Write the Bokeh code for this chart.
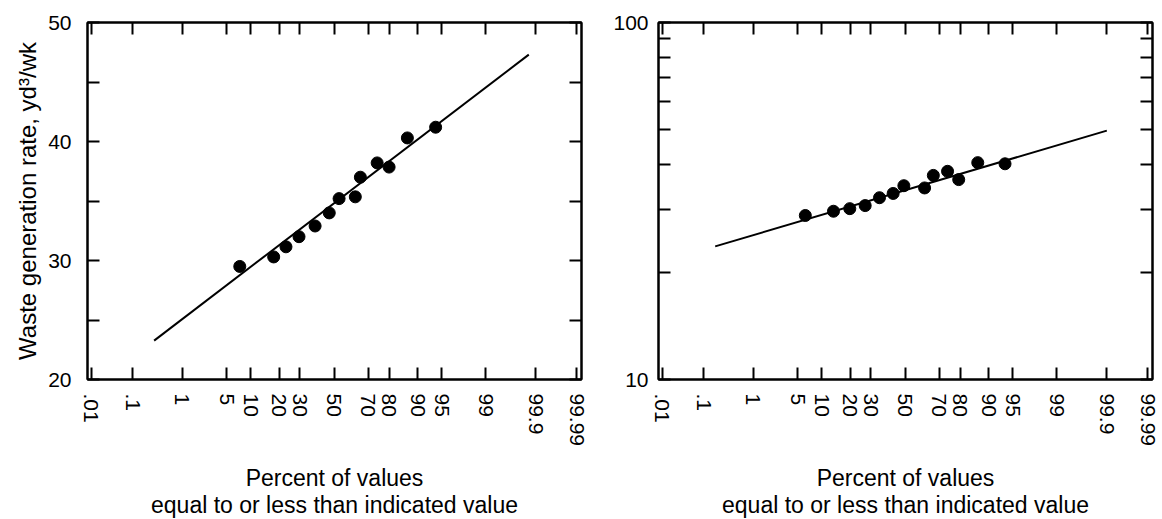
from statistics import NormalDist
from bokeh.plotting import figure
from bokeh.models import (Range1d, FixedTicker, LinearAxis, LogAxis,
                          CustomJSTickFormatter, CustomLabelingPolicy)
from bokeh.layouts import row
from bokeh.embed import file_html
from bokeh.resources import INLINE

# ---- data ----
tick_percents = [0.01, 0.1, 1, 5, 10, 20, 30, 50, 70, 80, 90, 95, 99, 99.9, 99.99]
tick_labels = [".01", ".1", "1", "5", "10", "20", "30", "50", "70", "80", "90", "95", "99", "99.9", "99.99"]

left_percent = [7.4, 17.7, 23, 29.5, 38.5, 47, 53, 62.7, 65.6, 74.5, 80, 86.9, 94]
left_rate = [29.5, 30.3, 31.15, 32.0, 32.9, 34.0, 35.2, 35.35, 37.0, 38.2, 37.85, 40.3, 41.2]
left_fit_percent = [0.29, 99.857]
left_fit_rate = [23.27, 47.3]

right_percent = [6.3, 13.6, 19.8, 27, 34.7, 42.7, 49.2, 61.7, 66.7, 74.2, 79.4, 86.7, 93.7]
right_rate = [28.8, 29.6, 30.1, 30.7, 32.3, 33.2, 34.9, 34.4, 37.3, 38.3, 36.3, 40.5, 40.2]
right_fit_percent = [0.18, 99.9]
right_fit_rate = [23.6, 49.8]

left_y_ticks = [20, 30, 40, 50]
left_y_minor = [25, 35, 45]
right_y_ticks = [10, 100]
right_y_minor = [20, 30, 40, 50, 60, 70, 80, 90]

y_title = "Waste generation rate, yd³/wk"
x_title = "Percent of values\nequal to or less than indicated value"

FONT = "Liberation Sans"
ND = NormalDist()


def z(p):
    return ND.inv_cdf(p / 100.0)


tick_z = [z(p) for p in tick_percents]


def x_formatter():
    return CustomJSTickFormatter(args=dict(zs=tick_z, labels=tick_labels), code="""
        let best = 0, d = Infinity;
        for (let i = 0; i < zs.length; i++) {
            const e = Math.abs(zs[i] - tick);
            if (e < d) { d = e; best = i; }
        }
        return labels[best];
    """)


def style_axis(ax, show_labels=True):
    ax.axis_line_color = "black"
    ax.axis_line_width = 2
    ax.major_tick_line_color = "black"
    ax.major_tick_line_width = 2
    ax.minor_tick_line_color = "black"
    ax.minor_tick_line_width = 2
    ax.major_tick_in = 12
    ax.major_tick_out = 0
    ax.minor_tick_in = 12
    ax.minor_tick_out = 0
    ax.major_label_text_font = FONT
    ax.major_label_text_color = "black"
    ax.axis_label_text_font = FONT
    ax.axis_label_text_font_style = "normal"
    ax.axis_label_text_color = "black"
    if show_labels:
        ax.major_label_text_font_size = "21px"
    else:
        ax.major_label_text_font_size = "1px"
        ax.major_label_standoff = 0
        ax.major_label_policy = CustomLabelingPolicy(code="return [];")


def make_panel(log, percents, rates, fit_p, fit_r, yticks, yminor, border_left, border_right, ylabel_standoff, ytitle):
    kw = dict(y_axis_type="log") if log else {}
    p = figure(frame_width=494, frame_height=357,
               min_border_left=border_left, min_border_right=border_right,
               min_border_top=22, min_border_bottom=140,
               x_range=Range1d(-3.78, 3.79),
               y_range=Range1d(yticks[0], yticks[-1]),
               output_backend="svg", toolbar_location=None, **kw)
    p.grid.visible = False
    p.outline_line_color = "black"
    p.outline_line_width = 2
    p.background_fill_color = "white"
    p.border_fill_color = "white"

    xt = FixedTicker(ticks=tick_z, minor_ticks=[])
    yt = FixedTicker(ticks=yticks, minor_ticks=yminor)

    xa = p.xaxis[0]
    xa.ticker = xt
    xa.formatter = x_formatter()
    style_axis(xa)
    xa.major_label_orientation = "vertical"
    xa.major_label_standoff = 14
    xa.axis_label = x_title
    xa.axis_label_text_font_size = "23px"
    xa.axis_label_text_line_height = 1.05
    xa.axis_label_standoff = 16

    ya = p.yaxis[0]
    ya.ticker = yt
    ya.formatter = CustomJSTickFormatter(code="return tick.toFixed(0);")
    style_axis(ya)
    ya.major_label_standoff = ylabel_standoff
    if ytitle:
        ya.axis_label = ytitle
        ya.axis_label_text_font_size = "24px"
        ya.axis_label_standoff = 4

    top = LinearAxis(ticker=FixedTicker(ticks=tick_z, minor_ticks=[]))
    style_axis(top, show_labels=False)
    p.add_layout(top, "above")

    right = (LogAxis if log else LinearAxis)(ticker=FixedTicker(ticks=yticks, minor_ticks=yminor))
    style_axis(right, show_labels=False)
    p.add_layout(right, "right")

    p.line([z(v) for v in fit_p], fit_r, line_color="black", line_width=2)
    p.scatter([z(v) for v in percents], rates, marker="circle", size=12,
              fill_color="black", line_color="black")
    return p


p1 = make_panel(False, left_percent, left_rate, left_fit_percent, left_fit_rate,
                left_y_ticks, left_y_minor, 87, 14, 16, y_title)
p2 = make_panel(True, right_percent, right_rate, right_fit_percent, right_fit_rate,
                right_y_ticks, right_y_minor, 63, 10, 10, None)

layout = row(p1, p2)
open("out.html", "w").write(file_html(layout, INLINE))
